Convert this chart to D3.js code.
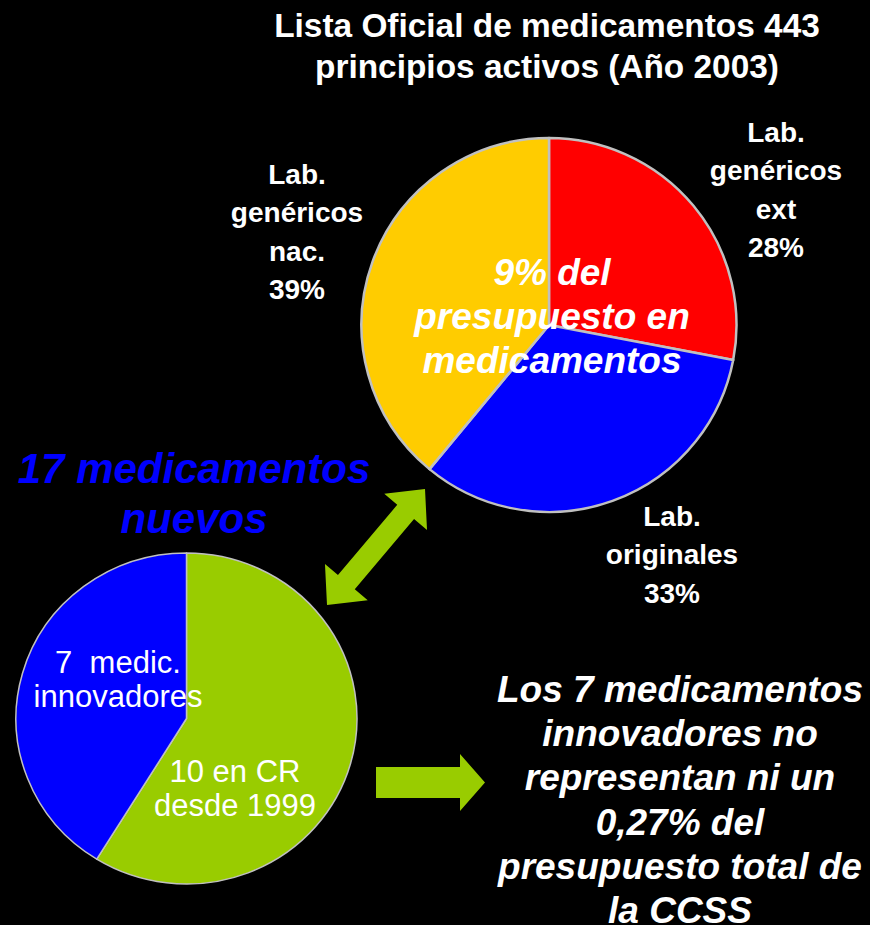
<!DOCTYPE html>
<html>
<head>
<meta charset="utf-8">
<script src="https://cdn.jsdelivr.net/npm/d3@7"></script>
<style>
  html, body { margin: 0; padding: 0; background: #000; }
  svg { display: block; }
  text { font-family: "Liberation Sans", Arial, sans-serif; fill: #fff; white-space: pre; }
</style>
</head>
<body>
<div id="chart"></div>
<script>
const
  WIDTH = 870,
  HEIGHT = 925;

// data
const titleLines = ['Lista Oficial de medicamentos 443', 'principios activos (Año 2003)'];

const listaNames = [['Lab.', 'genéricos', 'ext'], ['Lab.', 'originales'], ['Lab.', 'genéricos', 'nac.']];
const listaValues = [28, 33, 39];
const listaColors = ['#ff0000', '#0000ff', '#ffcc00'];
const listaCenterText = ['9% del', 'presupuesto en', 'medicamentos'];

const nuevosTitle = ['17 medicamentos', 'nuevos'];
const nuevosNames = [['10 en CR', 'desde 1999'], ['7  medic.', 'innovadores']];
const nuevosValues = [10, 7];
const nuevosColors = ['#99cc00', '#0000ff'];

const noteLines = ['Los 7 medicamentos', 'innovadores no', 'representan ni un', '0,27% del', 'presupuesto total de', 'la CCSS'];

// layout
const bigPie = { cx: 549, cy: 325, rx: 187.5, ry: 187, stroke: 2.5 };
const smallPie = { cx: 186.5, cy: 718.5, rx: 170.5, ry: 165.5, stroke: 1.5 };
const listaLabelPos = [[776, 142], [672, 526], [297, 184]];
const nuevosLabelPos = [[235, 782], [118, 673]];
const ARROW_GREEN = '#99cc00';

const svg = d3.select('#chart')
  .append('svg')
  .attr('width', WIDTH)
  .attr('height', HEIGHT);

svg.append('rect')
  .attr('width', WIDTH)
  .attr('height', HEIGHT)
  .attr('fill', '#000');

function multiline(lines, x, y, lineHeight, opts) {
  const t = svg.append('text')
    .attr('text-anchor', 'middle')
    .attr('font-size', opts.size)
    .attr('font-weight', opts.weight || 'normal')
    .attr('font-style', opts.style || 'normal')
    .style('fill', opts.color || '#fff');
  t.selectAll('tspan')
    .data(lines)
    .enter()
    .append('tspan')
    .attr('x', x)
    .attr('y', (d, i) => y + i * lineHeight)
    .text(d => d);
  return t;
}

function drawPie(cfg, values, colors) {
  const pie = d3.pie().sort(null).value(d => d);
  const arc = d3.arc().innerRadius(0).outerRadius(cfg.rx);
  const g = svg.append('g')
    .attr('transform', `translate(${cfg.cx},${cfg.cy}) scale(1,${cfg.ry / cfg.rx})`);
  g.selectAll('path')
    .data(pie(values))
    .enter()
    .append('path')
    .attr('d', arc)
    .attr('fill', (d, i) => colors[i])
    .attr('stroke', '#c0c0c0')
    .attr('stroke-width', cfg.stroke)
    .attr('stroke-linejoin', 'round');
  return g;
}

// title
multiline(titleLines, 547, 37, 41, { size: 33.4, weight: 'bold' });

// big pie
drawPie(bigPie, listaValues, listaColors);
listaNames.forEach((name, i) => {
  const lines = name.concat([`${listaValues[i]}%`]);
  multiline(lines, listaLabelPos[i][0], listaLabelPos[i][1], 38.3, { size: 28, weight: 'bold' });
});
multiline(listaCenterText, 552, 285, 44, { size: 37, weight: 'bold', style: 'italic' });

// small pie
drawPie(smallPie, nuevosValues, nuevosColors);
nuevosNames.forEach((name, i) => {
  multiline(name, nuevosLabelPos[i][0], nuevosLabelPos[i][1], 34, { size: 31 });
});
multiline(nuevosTitle, 194, 483, 50, { size: 42, weight: 'bold', style: 'italic', color: '#0000ff' });

// arrows
function doubleArrow(a, b, headLen, headHalf, shaftHalf) {
  const dx = b[0] - a[0], dy = b[1] - a[1];
  const len = Math.hypot(dx, dy);
  const ux = dx / len, uy = dy / len, nx = -uy, ny = ux;
  const pt = (s, n) => [a[0] + ux * s + nx * n, a[1] + uy * s + ny * n];
  return [
    pt(0, 0), pt(headLen, headHalf), pt(headLen, shaftHalf),
    pt(len - headLen, shaftHalf), pt(len - headLen, headHalf), pt(len, 0),
    pt(len - headLen, -headHalf), pt(len - headLen, -shaftHalf),
    pt(headLen, -shaftHalf), pt(headLen, -headHalf)
  ];
}

function singleArrow(x0, x1, y, headLen, headHalf, shaftHalf) {
  return [
    [x0, y - shaftHalf], [x1 - headLen, y - shaftHalf], [x1 - headLen, y - headHalf],
    [x1, y], [x1 - headLen, y + headHalf], [x1 - headLen, y + shaftHalf], [x0, y + shaftHalf]
  ];
}

const line = d3.line();
svg.append('path')
  .attr('d', line(doubleArrow([425, 489], [327, 605], 30, 28, 11)) + 'Z')
  .attr('fill', ARROW_GREEN);
svg.append('path')
  .attr('d', line(singleArrow(376, 485, 782.5, 25, 28.5, 15.5)) + 'Z')
  .attr('fill', ARROW_GREEN);

// note
multiline(noteLines, 680, 702, 44.2, { size: 37, weight: 'bold', style: 'italic' });
</script>
</body>
</html>
